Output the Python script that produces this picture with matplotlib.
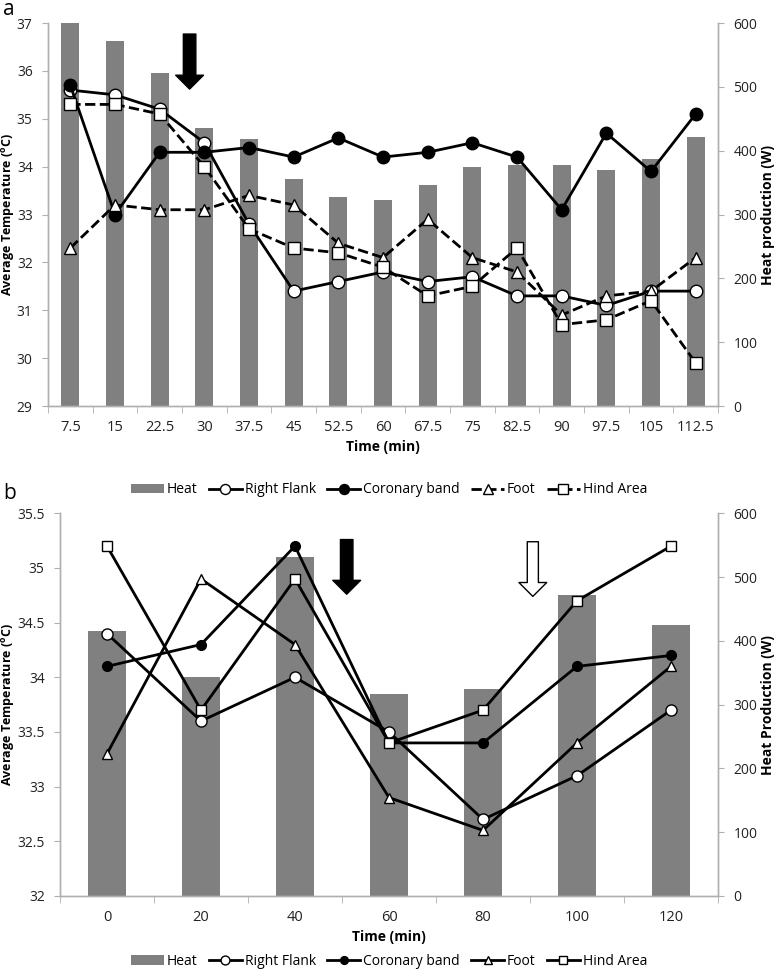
import matplotlib.pyplot as plt
import numpy as np

plt.rcParams['font.family'] = ['Open Sans', 'DejaVu Sans']

# ---- panel a data ----
time_a = ['7.5', '15', '22.5', '30', '37.5', '45', '52.5', '60', '67.5', '75',
          '82.5', '90', '97.5', '105', '112.5']
heat_a = [600, 572, 521, 436, 419, 355, 327, 322, 346, 374, 377, 377, 370, 387, 421]
flank_a = [35.6, 35.5, 35.2, 34.5, 32.8, 31.4, 31.6, 31.8, 31.6, 31.7, 31.3, 31.3, 31.1, 31.4, 31.4]
coronary_a = [35.7, 33.0, 34.3, 34.3, 34.4, 34.2, 34.6, 34.2, 34.3, 34.5, 34.2, 33.1, 34.7, 33.9, 35.1]
foot_a = [32.3, 33.2, 33.1, 33.1, 33.4, 33.2, 32.4, 32.1, 32.9, 32.1, 31.8, 30.9, 31.3, 31.4, 32.1]
hind_a = [35.3, 35.3, 35.1, 34.0, 32.7, 32.3, 32.2, 31.9, 31.3, 31.5, 32.3, 30.7, 30.8, 31.2, 29.9]

# ---- panel b data ----
time_b = ['0', '20', '40', '60', '80', '100', '120']
heat_b = [416, 343, 531, 316, 324, 472, 425]
flank_b = [34.4, 33.6, 34.0, 33.5, 32.7, 33.1, 33.7]
coronary_b = [34.1, 34.3, 35.2, 33.4, 33.4, 34.1, 34.2]
foot_b = [33.3, 34.9, 34.3, 32.9, 32.6, 33.4, 34.1]
hind_b = [35.2, 33.7, 34.9, 33.4, 33.7, 34.7, 35.2]

BAR = '#808080'
SPINE = '#b0b0b0'


def style_axes(ax, ax2, n, label_x):
    for a in (ax, ax2):
        a.spines['top'].set_visible(False)
        for s in ('left', 'right', 'bottom'):
            a.spines[s].set_color(SPINE)
            a.spines[s].set_linewidth(1.0)
        a.tick_params(axis='y', colors=SPINE, labelcolor='#222222', labelsize=10, length=4, pad=7)
    ax.set_xlim(-0.5, n - 0.5)
    ax.set_xticks(np.arange(n))
    ax.set_xticks(np.arange(n + 1) - 0.5, minor=True)
    ax.tick_params(axis='x', which='major', length=0, labelsize=10.5, labelcolor='#222222', pad=10)
    ax.tick_params(axis='x', which='minor', length=5, color=SPINE)
    ax.set_zorder(ax2.get_zorder() + 1)
    ax.patch.set_visible(False)
    ax.yaxis.set_label_coords(label_x, 0.5)


def legend_below(fig, ax, ax2, y):
    h1, l1 = ax2.get_legend_handles_labels()
    h2, l2 = ax.get_legend_handles_labels()
    fig.legend(h1 + h2, l1 + l2, loc='center', bbox_to_anchor=(0.5, y), ncol=5, frameon=False,
               fontsize=10, handlelength=2.4, handletextpad=0.2, columnspacing=0.8, markerscale=0.8)


fig = plt.figure(figsize=(7.78, 9.72), dpi=100)

# ================= panel a =================
ax = fig.add_axes([0.0617, 0.5823, 0.8612, 0.394])
ax2 = ax.twinx()
xa = np.arange(len(time_a))
ax2.bar(xa, heat_a, width=0.4, color=BAR, label='Heat')
ax2.set_ylim(0, 600)
ax2.set_yticks(np.arange(0, 601, 100))
ax.plot(xa, flank_a, '-', color='black', lw=2, marker='o', ms=9, mfc='white', mec='black', label='Right Flank')
ax.plot(xa, coronary_a, '-', color='black', lw=2, marker='o', ms=9, mfc='black', mec='black', label='Coronary band')
ax.plot(xa, foot_a, '--', color='black', lw=2, marker='^', ms=9, mfc='white', mec='black', label='Foot')
ax.plot(xa, hind_a, '--', color='black', lw=2, marker='s', ms=9, mfc='white', mec='black', label='Hind Area')
ax.set_ylim(29, 37)
ax.set_yticks(np.arange(29, 37.1, 1))
style_axes(ax, ax2, len(time_a), -0.047)
ax.set_xticklabels(time_a)
ax.set_xlabel('Time (min)', fontweight='bold', fontsize=10, labelpad=4)
ax.set_ylabel('Average Temperature ($^{\\mathregular{o}}$C)', fontweight='bold', fontsize=9)
ax2.set_ylabel('Heat production (W)', fontweight='bold', fontsize=10, labelpad=3)
ax.annotate('', xy=(2.67, 35.62), xytext=(2.67, 36.77),
            arrowprops=dict(arrowstyle='simple,head_length=0.5,head_width=1.0,tail_width=0.45',
                            mutation_scale=20, fc='black', ec='black', shrinkA=0, shrinkB=0))
fig.text(0.004, 0.990, 'a', fontsize=15, va='center', ha='left')
legend_below(fig, ax, ax2, 0.496)

# ================= panel b =================
bx = fig.add_axes([0.0771, 0.0782, 0.8458, 0.3937])
bx2 = bx.twinx()
xb = np.arange(len(time_b))
bx2.bar(xb, heat_b, width=0.4, color=BAR, label='Heat')
bx2.set_ylim(0, 600)
bx2.set_yticks(np.arange(0, 601, 100))
bx.plot(xb, flank_b, '-', color='black', lw=2, marker='o', ms=8, mfc='white', mec='black', label='Right Flank')
bx.plot(xb, coronary_b, '-', color='black', lw=2, marker='o', ms=7, mfc='black', mec='black', label='Coronary band')
bx.plot(xb, foot_b, '-', color='black', lw=2, marker='^', ms=7, mfc='white', mec='black', label='Foot')
bx.plot(xb, hind_b, '-', color='black', lw=2, marker='s', ms=7, mfc='white', mec='black', label='Hind Area')
bx.set_ylim(32, 35.5)
bx.set_yticks(np.arange(32, 35.51, 0.5))
bx.set_yticklabels(['32', '32.5', '33', '33.5', '34', '34.5', '35', '35.5'])
style_axes(bx, bx2, len(time_b), -0.065)
bx.set_xticklabels(time_b)
bx.set_xlabel('Time (min)', fontweight='bold', fontsize=10, labelpad=4)
bx.set_ylabel('Average Temperature ($^{\\mathregular{o}}$C)', fontweight='bold', fontsize=9)
bx2.set_ylabel('Heat Production (W)', fontweight='bold', fontsize=10, labelpad=3)
bx.annotate('', xy=(2.55, 34.76), xytext=(2.55, 35.26),
            arrowprops=dict(arrowstyle='simple,head_length=0.5,head_width=1.0,tail_width=0.45',
                            mutation_scale=20, fc='black', ec='black', shrinkA=0, shrinkB=0))
bx.annotate('', xy=(4.53, 34.74), xytext=(4.53, 35.24),
            arrowprops=dict(arrowstyle='simple,head_length=0.5,head_width=1.0,tail_width=0.4',
                            mutation_scale=20, fc='white', ec='black', lw=1, shrinkA=0, shrinkB=0))
fig.text(0.004, 0.492, 'b', fontsize=15, va='center', ha='left')
legend_below(fig, bx, bx2, 0.011)

fig.savefig('out.png', dpi=100)
